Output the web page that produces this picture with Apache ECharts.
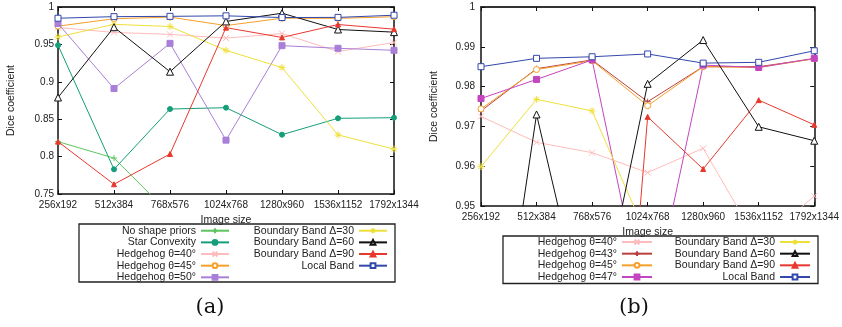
<!DOCTYPE html>
<html>
<head>
<meta charset="utf-8">
<script src="https://cdn.jsdelivr.net/npm/echarts@6/dist/echarts.min.js"></script>
<style>
html, body { margin: 0; padding: 0; background: #fff; }
#chart { width: 842px; height: 327px; }
</style>
</head>
<body>
<div id="chart"></div>
<script>
// image sizes on the x axis (both panels)
let sizes = ['256x192', '512x384', '768x576', '1024x768', '1280x960', '1536x1152', '1792x1344'];

// panel (a)
let noShapePriors = [0.820, 0.798, 0.723, 0.712, 0.705, 0.700, 0.695];
let starConvexity = [0.949, 0.783, 0.8636, 0.8654, 0.8293, 0.8512, 0.8520];
let hedgehog40 = [0.9725, 0.9660, 0.9634, 0.9584, 0.9645, 0.9405, 0.9525];
let hedgehog45 = [0.9744, 0.9843, 0.9865, 0.9752, 0.9850, 0.9848, 0.9870];
let hedgehog50 = [0.978, 0.891, 0.9514, 0.822, 0.9483, 0.9448, 0.9421];
let band30 = [0.9599, 0.9768, 0.9739, 0.942, 0.919, 0.829, 0.810];
let band60 = [0.879, 0.9730, 0.9135, 0.9807, 0.9917, 0.9699, 0.9664];
let band90 = [0.820, 0.763, 0.8035, 0.9724, 0.9593, 0.9766, 0.9704];
let localBand = [0.9850, 0.9871, 0.9875, 0.9882, 0.9859, 0.9861, 0.9890];

// panel (b), extra hedgehog angles
let hedgehog43 = [0.9739, 0.9845, 0.9867, 0.9762, 0.9850, 0.9850, 0.9870];
let hedgehog47 = [0.9770, 0.9818, 0.9867, 0.9200, 0.9854, 0.9848, 0.9871];

let PLUS = 'path://M5,0V10M0,5H10';
let CROSS = 'path://M0,0L10,10M0,10L10,0';
let STAR = 'path://M5,0V10M0,5H10M1.5,1.5L8.5,8.5M1.5,8.5L8.5,1.5';

let font = 'Liberation Sans';
let ink = '#222';

// hollow marks get a white fill and a 1px outline (the built-in empty* symbols use 2px)
function line(name, values, color, symbol, size, panel, hollow) {
    return {
        name: name,
        type: 'line',
        xAxisIndex: panel * 2,
        yAxisIndex: panel * 2,
        data: values,
        symbol: symbol,
        symbolSize: size,
        color: color,
        lineStyle: {width: 1, color: color},
        itemStyle: {color: hollow ? '#fff' : color, borderColor: color, borderWidth: 1},
        emphasis: {disabled: true}
    };
}

function bottomAxis(grid) {
    return {
        type: 'category', gridIndex: grid, data: sizes, boundaryGap: false,
        name: 'Image size', nameLocation: 'middle', nameGap: 21,
        nameTextStyle: {fontFamily: font, fontSize: 10.5, color: ink},
        axisLine: {lineStyle: {color: '#111', width: 1.5}},
        axisTick: {inside: true, length: 4, interval: 0, lineStyle: {color: '#111'}},
        axisLabel: {fontFamily: font, fontSize: 10, color: ink, margin: 6, interval: 0}
    };
}

function topAxis(grid) {
    return {
        type: 'category', gridIndex: grid, data: sizes, boundaryGap: false, position: 'top',
        axisLine: {lineStyle: {color: '#333', width: 2}},
        axisTick: {inside: true, length: 4, interval: 0, lineStyle: {color: '#111'}},
        axisLabel: {show: false}
    };
}

function leftAxis(grid, min, step, margin) {
    return {
        type: 'value', gridIndex: grid, min: min, max: 1, interval: step,
        name: 'Dice coefficient', nameLocation: 'middle', nameGap: 41,
        nameTextStyle: {fontFamily: font, fontSize: 10.5, color: ink},
        axisLine: {show: true, lineStyle: {color: '#111', width: 1.5}},
        axisTick: {show: true, inside: true, length: 4, lineStyle: {color: '#111'}},
        axisLabel: {fontFamily: font, fontSize: 10, color: ink, margin: margin},
        splitLine: {show: false}
    };
}

function rightAxis(grid, min, step) {
    return {
        type: 'value', gridIndex: grid, min: min, max: 1, interval: step, position: 'right',
        axisLine: {show: true, lineStyle: {color: '#111', width: 1.5}},
        axisTick: {show: true, inside: true, length: 4, lineStyle: {color: '#111'}},
        axisLabel: {show: false},
        splitLine: {show: false}
    };
}

function legend(names, right, top, iconWidth) {
    return {
        data: names, orient: 'vertical', align: 'right',
        right: right, top: top, padding: 0,
        itemWidth: iconWidth, itemHeight: 6, itemGap: 0,
        selectedMode: false,
        textStyle: {fontFamily: font, fontSize: 10.5, color: ink, lineHeight: 11.65}
    };
}

let names = {
    nsp: 'No shape priors', sc: 'Star Convexity',
    h40: 'Hedgehog θ=40°', h43: 'Hedgehog θ=43°', h45: 'Hedgehog θ=45°',
    h47: 'Hedgehog θ=47°', h50: 'Hedgehog θ=50°',
    b30: 'Boundary Band Δ=30', b60: 'Boundary Band Δ=60', b90: 'Boundary Band Δ=90',
    lb: 'Local Band'
};

let chart = echarts.init(document.getElementById('chart'));
chart.setOption({
    animation: false,
    backgroundColor: '#fff',
    grid: [
        {left: 58, top: 7, width: 336, height: 187},
        {left: 481, top: 7, width: 337, height: 199}
    ],
    xAxis: [bottomAxis(0), topAxis(0), bottomAxis(1), topAxis(1)],
    yAxis: [leftAxis(0, 0.75, 0.05, 4), rightAxis(0, 0.75, 0.05),
            leftAxis(1, 0.95, 0.01, 6), rightAxis(1, 0.95, 0.01)],
    legend: [
        legend([names.nsp, names.sc, names.h40, names.h45, names.h50], 612, 224.9, 28),
        legend([names.b30, names.b60, names.b90, names.lb], 454, 224.9, 28),
        legend([names.h40, names.h43, names.h45, names.h47], 189, 236.2, 30),
        legend([names.b30, names.b60, names.b90, names.lb], 31, 236.2, 30)
    ],
    graphic: [
        {type: 'rect', shape: {x: 79, y: 224, width: 316, height: 58},
         style: {fill: null, stroke: '#222', lineWidth: 1.3}, silent: true},
        {type: 'rect', shape: {x: 503, y: 236, width: 315, height: 47.5},
         style: {fill: null, stroke: '#222', lineWidth: 1.3}, silent: true},
        {type: 'text', x: 210, y: 308,
         style: {text: '(a)', fontFamily: 'DejaVu Serif', fontSize: 21, fill: '#111',
                 align: 'center', verticalAlign: 'middle'}},
        {type: 'text', x: 634, y: 308,
         style: {text: '(b)', fontFamily: 'DejaVu Serif', fontSize: 21, fill: '#111',
                 align: 'center', verticalAlign: 'middle'}}
    ],
    series: [
        line(names.nsp, noShapePriors, '#5ec45e', PLUS, 6, 0),
        line(names.sc, starConvexity, '#149e7a', 'circle', 5, 0),
        line(names.h40, hedgehog40, '#ffbcbc', CROSS, 6, 0),
        line(names.h45, hedgehog45, '#f5a02a', 'circle', 6, 0, true),
        line(names.h50, hedgehog50, '#a97fd8', 'rect', 6, 0),
        line(names.b30, band30, '#eee03a', STAR, 7, 0),
        line(names.b60, band60, '#111111', 'triangle', 7, 0, true),
        line(names.b90, band90, '#e8382e', 'triangle', 5, 0),
        line(names.lb, localBand, '#3248ab', 'rect', 6, 0, true),

        line(names.h40, hedgehog40, '#ffbcbc', CROSS, 6, 1),
        line(names.h43, hedgehog43, '#b8413f', PLUS, 6, 1),
        line(names.h45, hedgehog45, '#f5a02a', 'circle', 6, 1, true),
        line(names.h47, hedgehog47, '#c445c0', 'rect', 6, 1),
        line(names.b30, band30, '#eee03a', STAR, 7, 1),
        line(names.b60, band60, '#111111', 'triangle', 7, 1, true),
        line(names.b90, band90, '#e8382e', 'triangle', 5, 1),
        line(names.lb, localBand, '#3248ab', 'rect', 6, 1, true)
    ]
});
</script>
</body>
</html>
